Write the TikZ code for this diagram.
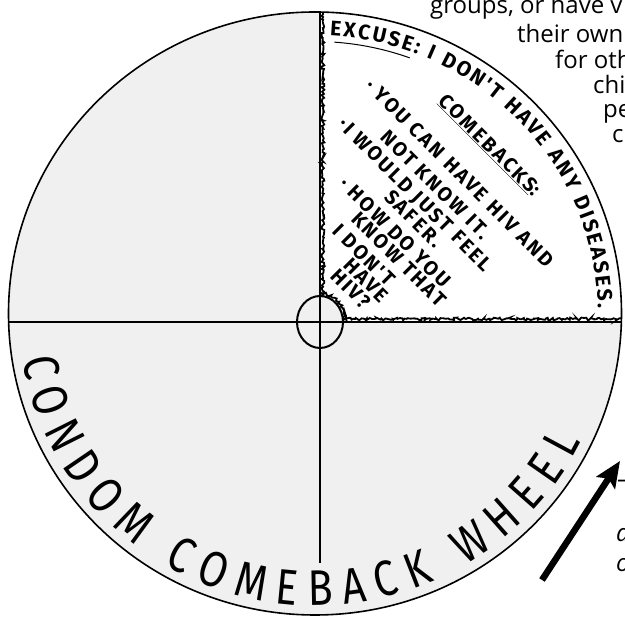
\documentclass[tikz,border=0pt]{standalone}
\usepackage{fontspec}
\usetikzlibrary{decorations.text,decorations.pathmorphing,arrows.meta}
\newfontfamily\handfont{Fira Sans}
\newfontfamily\handspaced{Fira Sans}[LetterSpace=12]
\newfontfamily\handnarrow{Fira Sans}[FakeStretch=0.82]
\newfontfamily\pagefont{Open Sans}
\definecolor{wheelgray}{RGB}{240,240,240}
\tikzset{
  rim/.style={line width=1.6pt},
  cross/.style={line width=1.3pt},
  jag/.style={line width=1.8pt, decorate, decoration={random steps, segment length=1.6pt, amplitude=1.4pt}},
  handline/.style={rotate=-45, anchor=west, inner sep=0pt, font=\handspaced\bfseries\fontsize{20}{20}\selectfont},
  pagetext/.style={anchor=base west, inner sep=0pt, font=\pagefont\fontsize{24}{24}\selectfont},
}
\begin{document}
\begin{tikzpicture}[x=1pt,y=1pt]
\pgfmathsetseed{7}
\useasboundingbox (0,0) rectangle (625,620);
\clip (0,0) rectangle (625,620);
\fill[white] (0,0) rectangle (625,620);

\coordinate (c) at (315,306.5);
\coordinate (hub) at (320,298);

% wheel fills
\fill[wheelgray] (c) ellipse[x radius=306.5, y radius=301.5];
\begin{scope}
  \clip (c) ellipse[x radius=306.5, y radius=301.5];
  \fill[white] (320,298) rectangle (630,620);
  \draw[jag] (323,298) -- (323,620);
  \draw[jag] (320,301) -- (630,301);
  \draw[jag] (hub) ++(0:25.5 and 28.5) arc[start angle=0, end angle=90, x radius=25.5, y radius=28.5];
  \fill[wheelgray] (hub) ellipse[x radius=23, y radius=26];
  \draw[cross] (320,298) -- (320,625);
  \draw[cross] (320,298) -- (320,57);
  \draw[cross] (-5,298) -- (630,298);
\end{scope}
\draw[line width=2pt] (hub) ellipse[x radius=23, y radius=26];
\draw[rim] (c) ellipse[x radius=306.5, y radius=301.5];

% curved texts
\begin{scope}[shift={(c)}]
  \path[decorate, decoration={text along path, text align=fit to path,
     text={|\handfont\bfseries\fontsize{21}{21}\selectfont|EXCUSE: I DON'T HAVE ANY DISEASES.}}]
     (87:283 and 278) arc[start angle=87, end angle=1, x radius=283, y radius=278];
  \draw[line width=1pt] (86:277 and 272) arc[start angle=86, end angle=70, x radius=277, y radius=272];
  \path[decorate, decoration={text along path, text align=fit to path,
     text={|\handnarrow\fontsize{50}{50}\selectfont|CONDOM COMEBACK WHEEL}}]
     (189:296 and 292) arc[start angle=189, end angle=334, x radius=296, y radius=292];
\end{scope}

% comebacks
\node[handline] (l1) at (442,522) {\underline{COMEBACKS}:};
\node[handline] (l2) at (369,538) {· YOU CAN HAVE HIV AND};
\node[handline] (l3) at (384,487) {NOT KNOW IT.};
\node[handline] (l4) at (341,498) {·I WOULD JUST FEEL};
\node[handline] (l5) at (388,427) {SAFER.};
\node[handline] (l6) at (343,440) {· HOW DO YOU};
\node[handline] (l7) at (355,405) {KNOW THAT};
\node[handline] (l8) at (336,393) {I DON'T};
\node[handline] (l9) at (347,359) {HAVE};
\node[handline] (l10) at (334,348) {HIV?};

% page text around the wheel
\node[pagetext] (t1) at (430,606) {groups, or have v};
\node[pagetext] (t2) at (517,577) {their own};
\node[pagetext] (t3) at (555,551) {for oth};
\node[pagetext] (t4) at (593,526) {chi};
\node[pagetext] (t5) at (603,502) {pe};
\node[pagetext] (t6) at (612,477) {c};
\node[pagetext] (t7) at (617,132) {–};
\node[pagetext, font=\pagefont\itshape\fontsize{24}{24}\selectfont] (t8) at (616,78) {a};
\node[pagetext, font=\pagefont\itshape\fontsize{24}{24}\selectfont] (t9) at (616,48) {o};

% arrow
\coordinate (atail) at (542,40);
\coordinate (ahead) at (620,159);
\draw[line width=6.5pt, -{Stealth[length=26pt,width=22pt,inset=5pt]}] (atail) -- (ahead);
\end{tikzpicture}
\end{document}
